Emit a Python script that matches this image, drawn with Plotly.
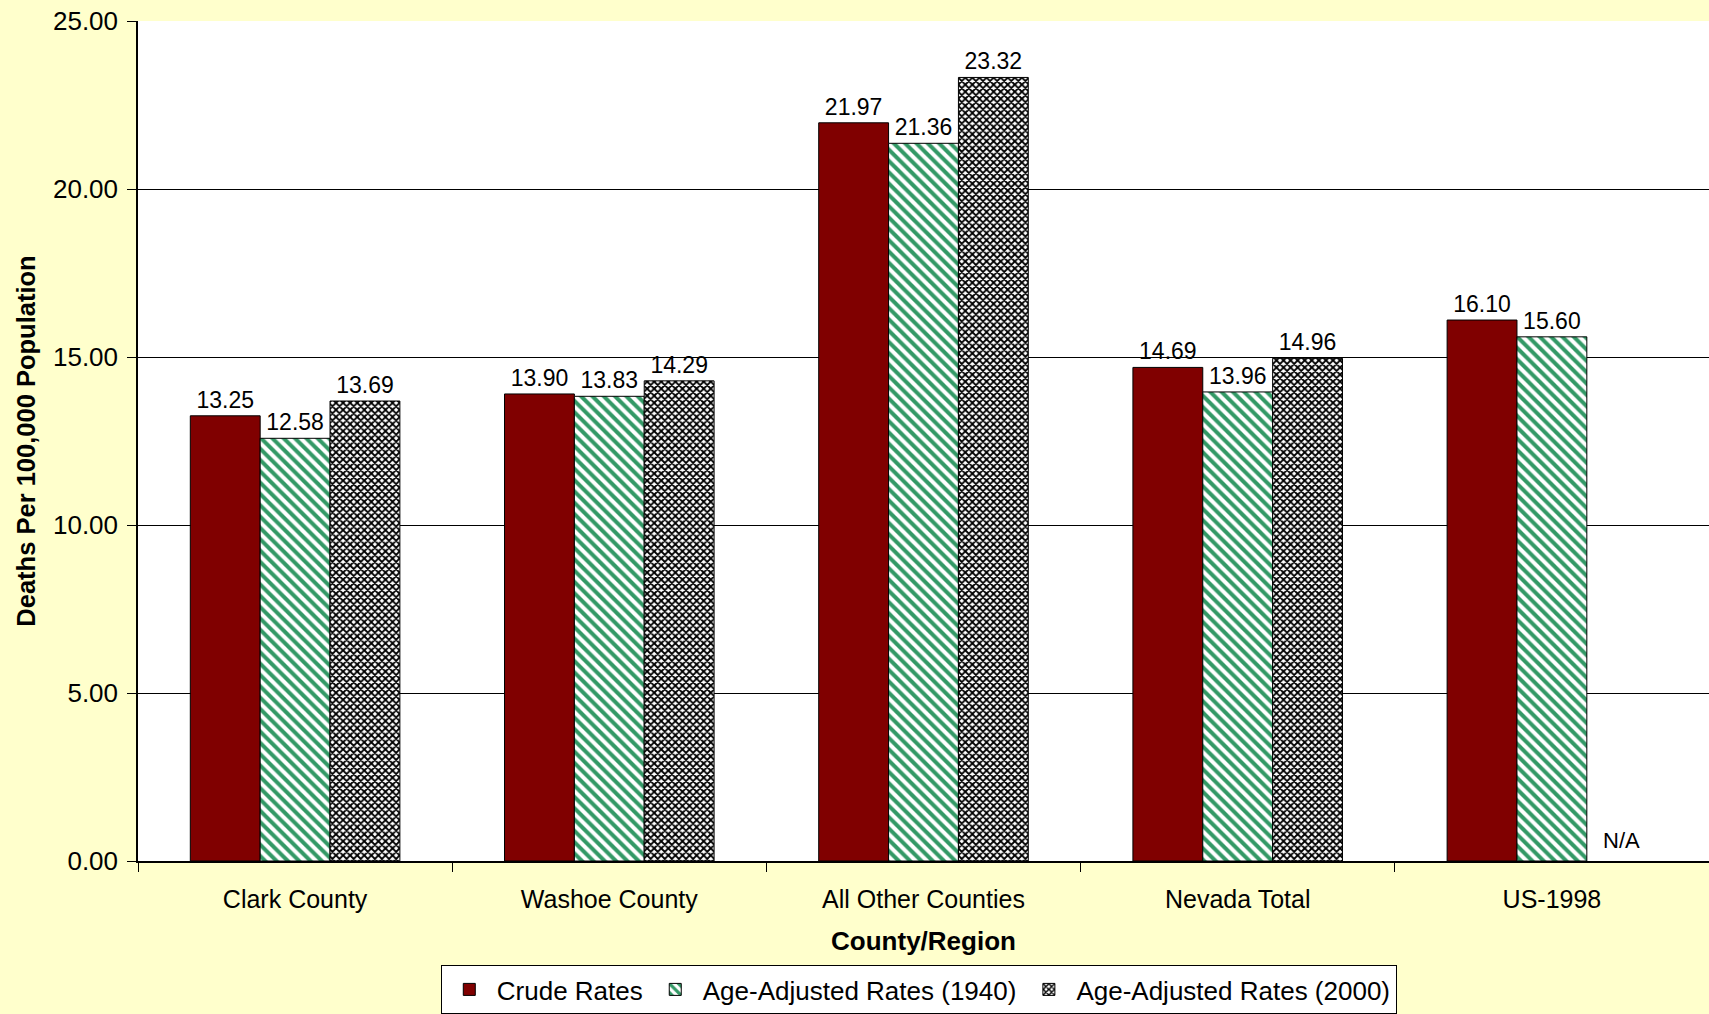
import plotly.graph_objects as go

categories = ["Clark County", "Washoe County", "All Other Counties", "Nevada Total", "US-1998"]
crude_rates = [13.25, 13.90, 21.97, 14.69, 16.10]
adj_1940 = [12.58, 13.83, 21.36, 13.96, 15.60]
adj_2000 = [13.69, 14.29, 23.32, 14.96, None]
series_names = ["Crude Rates", "Age-Adjusted Rates (1940)", "Age-Adjusted Rates (2000)"]
y_ticks = [0, 5, 10, 15, 20, 25]

FONT = "Liberation Sans, Arial, sans-serif"


def labels(vals):
    return ["" if v is None else f"{v:.2f}" for v in vals]


fig = go.Figure()
fig.add_trace(go.Bar(
    name=series_names[0], x=categories, y=crude_rates, text=labels(crude_rates),
    marker=dict(color="#800000", line=dict(color="black", width=1)),
))
fig.add_trace(go.Bar(
    name=series_names[1], x=categories, y=adj_1940, text=labels(adj_1940),
    marker=dict(color="white", line=dict(color="black", width=1),
                pattern=dict(shape="\\", fgcolor="#339966", bgcolor="white", fgopacity=1,
                             size=8, solidity=0.5, fillmode="replace")),
))
fig.add_trace(go.Bar(
    name=series_names[2], x=categories, y=adj_2000, text=labels(adj_2000),
    marker=dict(color="white", line=dict(color="black", width=1),
                pattern=dict(shape="x", fgcolor="black", bgcolor="white", fgopacity=1,
                             size=5, solidity=0.6, fillmode="replace")),
))
fig.update_traces(textposition="outside", cliponaxis=False, constraintext="none",
                  textfont=dict(family=FONT, size=23, color="black"))

# N/A label for missing US-1998 (2000) value
fig.add_annotation(x=categories[4], y=0, text="N/A", showarrow=False, yanchor="bottom",
                   xshift=70, yshift=6, font=dict(family=FONT, size=22, color="black"))

fig.update_layout(
    width=1709, height=1014,
    margin=dict(l=138, r=0, t=21, b=153),
    paper_bgcolor="#FFFFCC", plot_bgcolor="white",
    font=dict(family=FONT, size=24, color="black"),
    barmode="group", bargap=0.333, bargroupgap=0,
    showlegend=True,
    legend=dict(orientation="h", x=0.497, xanchor="center",
                yref="container", y=0.0, yanchor="bottom",
                bgcolor="white", bordercolor="black", borderwidth=1,
                font=dict(family=FONT, size=26), itemwidth=45),
    xaxis=dict(
        automargin=False,
        showline=True, linecolor="black", linewidth=1.5,
        ticks="outside", ticklen=9, tickcolor="black", tickson="boundaries",
        tickfont=dict(family=FONT, size=25), ticklabelstandoff=15,
        title=dict(text="<b>County/Region</b>", font=dict(family=FONT, size=26), standoff=20),
    ),
    yaxis=dict(
        automargin=False,
        range=[0, 25], tickvals=y_ticks, tickformat=".2f",
        showline=True, linecolor="black", linewidth=1.5,
        showgrid=True, gridcolor="black", gridwidth=1, zeroline=False,
        ticks="outside", ticklen=9, tickcolor="black",
        tickfont=dict(family=FONT, size=26), ticklabelstandoff=4,
        title=dict(text="<b>Deaths Per 100,000 Population</b>", font=dict(family=FONT, size=25.5), standoff=10),
    ),
)

fig.write_html("out.html", config={"displayModeBar": False},
               post_script="document.body.style.margin='0';document.body.style.overflow='hidden';")
